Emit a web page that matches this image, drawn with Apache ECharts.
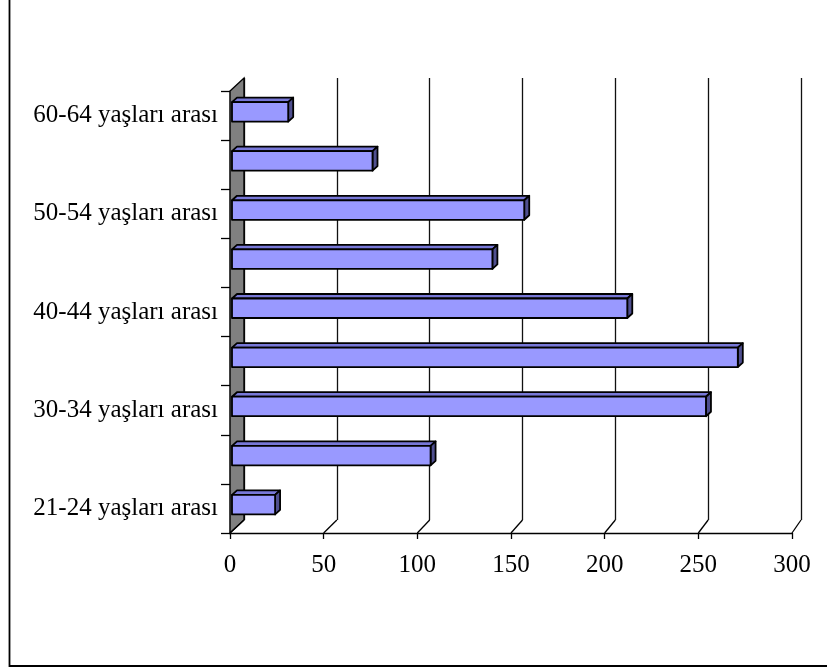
<!DOCTYPE html>
<html>
<head>
<meta charset="utf-8">
<script src="https://cdn.jsdelivr.net/npm/echarts@6/dist/echarts.min.js"></script>
<style>
html,body{margin:0;padding:0;background:#fff;}
#c{width:827px;height:667px;}
</style>
</head>
<body>
<div id="c"></div>
<script>
// ---- data ----
const categories = [
  '21-24 yaşları arası','25-29 yaşları arası','30-34 yaşları arası',
  '35-39 yaşları arası','40-44 yaşları arası','45-49 yaşları arası',
  '50-54 yaşları arası','55-59 yaşları arası','60-64 yaşları arası'
];
const values = [23, 106, 253, 270, 211, 139, 156, 75, 30];
const xTicks = [0, 50, 100, 150, 200, 250, 300];

// ---- layout ----
const FRONT = {left: 230, top: 91, width: 562, height: 442};
const BACK  = {left: 244, top: 78, width: 557, height: 442};
const FONT = 'Liberation Serif';

const chart = echarts.init(document.getElementById('c'), null, {renderer: 'canvas'});

const option = {
  backgroundColor: '#fff',
  animation: false,
  grid: [
    Object.assign({}, FRONT),
    Object.assign({}, BACK)
  ],
  xAxis: [
    {gridIndex: 0, type: 'value', min: xTicks[0], max: xTicks[xTicks.length - 1], interval: xTicks[1] - xTicks[0],
     axisLine: {show: true, lineStyle: {color: '#000', width: 1.3}},
     axisTick: {show: true, length: 6, lineStyle: {color: '#000', width: 1.3}},
     axisLabel: {fontFamily: FONT, fontSize: 25, color: '#000', margin: 20},
     splitLine: {show: false}},
    {gridIndex: 1, type: 'value', min: xTicks[0], max: xTicks[xTicks.length - 1], interval: xTicks[1] - xTicks[0],
     axisLine: {show: false}, axisTick: {show: false}, axisLabel: {show: false},
     splitLine: {show: true, lineStyle: {color: '#111', width: 1.3}}}
  ],
  yAxis: [
    {gridIndex: 0, type: 'category', data: categories,
     axisLine: {show: true, lineStyle: {color: '#000', width: 1.3}},
     axisTick: {show: true, interval: 0, length: 9, lineStyle: {color: '#000', width: 1.3}},
     axisLabel: {interval: 1, fontFamily: FONT, fontSize: 25, color: '#000', margin: 12},
     splitLine: {show: false}},
    {gridIndex: 1, type: 'category', data: categories, show: false,
     axisLine: {show: false}, axisTick: {show: false}, axisLabel: {show: false}, splitLine: {show: false}}
  ],
  series: [{
    type: 'custom',
    xAxisIndex: 0, yAxisIndex: 0,
    z: 10,
    data: values.map((v, i) => [v, i]),
    renderItem: function (params, api) {
      const v = api.value(0), i = api.value(1);
      const p0 = api.coord([0, i]);
      const p1 = api.coord([v, i]);
      const x0 = p0[0] + 2, x1 = p1[0] + 2;
      const cy = p0[1];
      const top = cy - 13.5, bot = cy + 6;
      const dx = 5, dy = -4.5;
      const st = {stroke: '#000', lineWidth: 1.8, lineJoin: 'round'};
      return {
        type: 'group',
        children: [
          {type: 'polygon', shape: {points: [[x0, top], [x0 + dx, top + dy], [x1 + dx, top + dy], [x1, top]]},
           style: Object.assign({fill: '#7878D8'}, st)},
          {type: 'polygon', shape: {points: [[x1, top], [x1 + dx, top + dy], [x1 + dx, bot + dy], [x1, bot]]},
           style: Object.assign({fill: '#4F4F8F'}, st)},
          {type: 'rect', shape: {x: x0, y: top, width: x1 - x0, height: bot - top},
           style: Object.assign({fill: '#9999FF'}, st)}
        ]
      };
    }
  }]
};
chart.setOption(option);

// ---- wall, floor diagonals and frame from axis scales ----
const frontFloor = FRONT.top + FRONT.height;
const backFloor = BACK.top + BACK.height;
const fx = v => chart.convertToPixel({xAxisIndex: 0}, v);
const bx = v => chart.convertToPixel({xAxisIndex: 1}, v);
const gfx = [];
gfx.push({type: 'rect', z: 0, shape: {x: 9.5, y: -10, width: 900, height: 676},
  style: {fill: 'none', stroke: '#000', lineWidth: 1.8}});
gfx.push({type: 'polygon', z: 1,
  shape: {points: [[fx(0), frontFloor], [fx(0), FRONT.top], [bx(0), BACK.top], [bx(0), backFloor]]},
  style: {fill: '#808080', stroke: '#000', lineWidth: 1.4}});
xTicks.forEach(v => {
  gfx.push({type: 'line', z: 1,
    shape: {x1: fx(v), y1: frontFloor, x2: bx(v), y2: backFloor},
    style: {stroke: '#000', lineWidth: 1.3}});
});
chart.setOption({graphic: gfx});
</script>
</body>
</html>
